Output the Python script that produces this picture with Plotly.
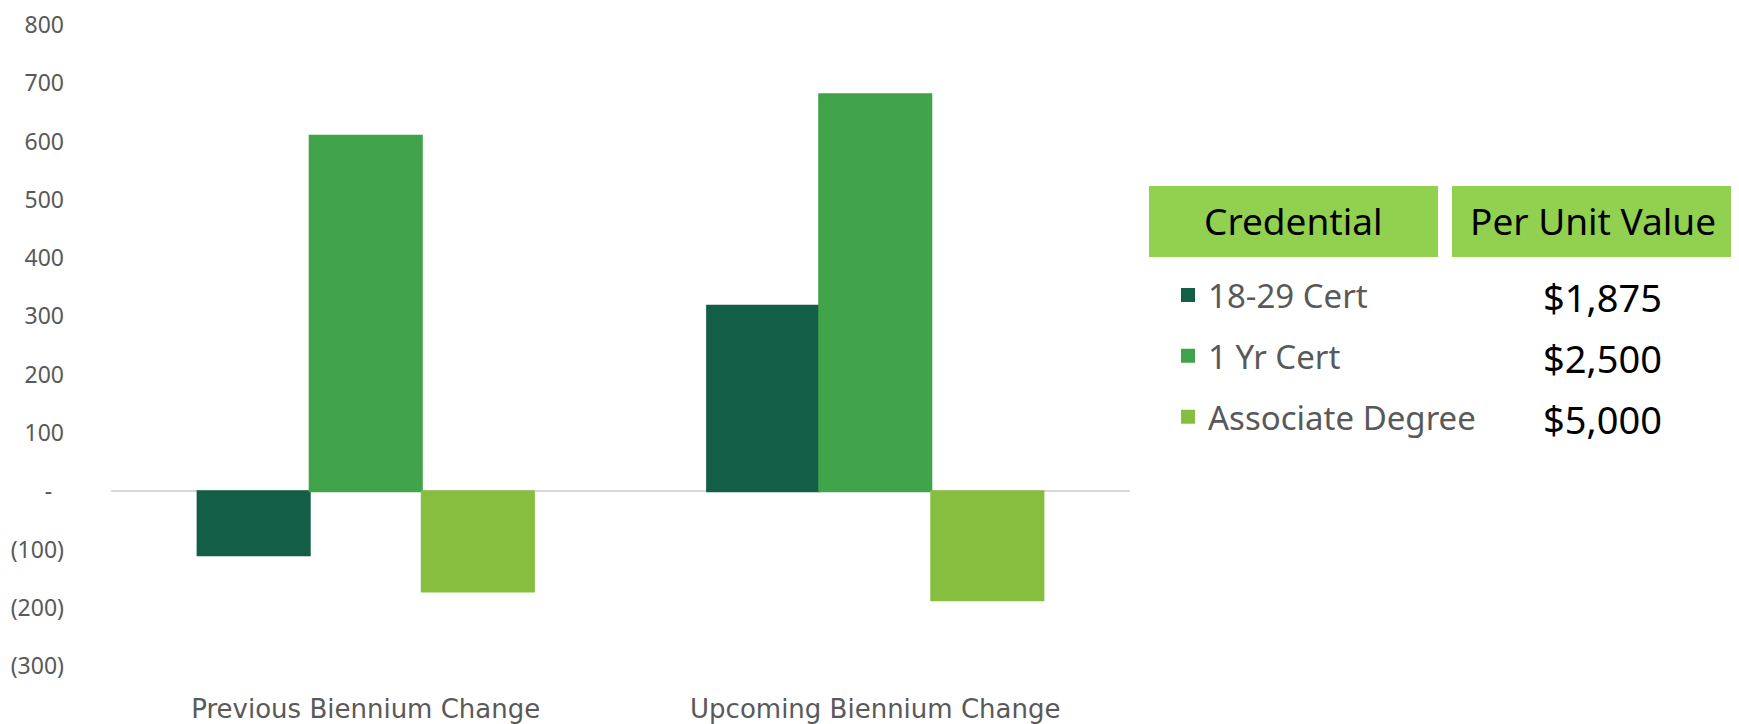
import plotly.graph_objects as go

categories = ["Previous Biennium Change", "Upcoming Biennium Change"]
series_names = ["18-29 Cert", "1 Yr Cert", "Associate Degree"]
cert_18_29 = [-110, 318]
cert_1yr = [610, 681]
associate = [-172, -187]
per_unit_values = ["$1,875", "$2,500", "$5,000"]
table_headers = ["Credential", "Per Unit Value"]
y_tick_vals = [-300, -200, -100, 0, 100, 200, 300, 400, 500, 600, 700, 800]
y_tick_text = ["(300)", "(200)", "(100)", "-\u00a0\u00a0", "100", "200", "300", "400",
               "500", "600", "700", "800"]

colors = ["#135E46", "#41A34A", "#86BF40"]
header_color = "#92D050"

W, H = 1739, 724
L, R, T, B = 103, 617, 17, 66
plot_w = W - L - R
plot_h = H - T - B

def px_x(x):
    return (x - L) / plot_w

def px_y(y):
    return (H - B - y) / plot_h

fig = go.Figure()
for i, (name, vals) in enumerate(zip(series_names, [cert_18_29, cert_1yr, associate])):
    fig.add_trace(go.Bar(
        x=categories, y=vals, name=name,
        marker=dict(color=colors[i], line=dict(width=2, color=colors[i])),
        legendgroup=name,
    ))

fig.update_layout(
    width=W, height=H,
    margin=dict(l=L, r=R, t=T, b=B, autoexpand=False),
    plot_bgcolor="white", paper_bgcolor="white",
    barmode="group", bargap=0.34, bargroupgap=0,
    font=dict(family="Noto Sans", color="#595959"),
    legend=dict(
        x=px_x(1160), y=px_y(259), xanchor="left", yanchor="top",
        font=dict(family="Noto Sans", size=33, color="#595959"),
        itemwidth=30, tracegroupgap=15, bgcolor="rgba(0,0,0,0)",
    ),
    xaxis=dict(
        showgrid=False, showline=False, ticks="", automargin=False,
        tickfont=dict(family="DejaVu Sans", size=26, color="#595959"),
        ticklabelstandoff=25, ticklabeloverflow="allow",
    ),
    yaxis=dict(
        range=[-300, 800], showgrid=False, showline=False, ticks="", automargin=False,
        tickvals=y_tick_vals, ticktext=y_tick_text,
        tickfont=dict(family="Noto Sans", size=23, color="#595959"),
        zeroline=True, zerolinecolor="#D9D9D9", zerolinewidth=2,
        ticklabelstandoff=46, ticklabeloverflow="allow",
    ),
)

# table header boxes: (box left, box right, text centre)
header_boxes = [(1141, 1430, 1285.5), (1444, 1739, 1585)]
for (x0, x1, xc), text in zip(header_boxes, table_headers):
    fig.add_shape(type="rect", xref="paper", yref="paper",
                  x0=px_x(x0), x1=px_x(x1), y0=px_y(249), y1=px_y(178),
                  fillcolor=header_color, line=dict(width=0), layer="below")
    fig.add_annotation(xref="paper", yref="paper", x=px_x(xc), y=px_y(212.5),
                       text=text, showarrow=False, xanchor="center", yanchor="middle",
                       font=dict(family="Noto Sans", size=37, color="black"))

row_y = [289, 350, 411]
for yv, txt in zip(row_y, per_unit_values):
    fig.add_annotation(xref="paper", yref="paper", x=px_x(1594), y=px_y(yv),
                       text=txt, showarrow=False, xanchor="center", yanchor="middle",
                       font=dict(family="Noto Sans", size=38, color="black"))

fig.write_html("out.html")
